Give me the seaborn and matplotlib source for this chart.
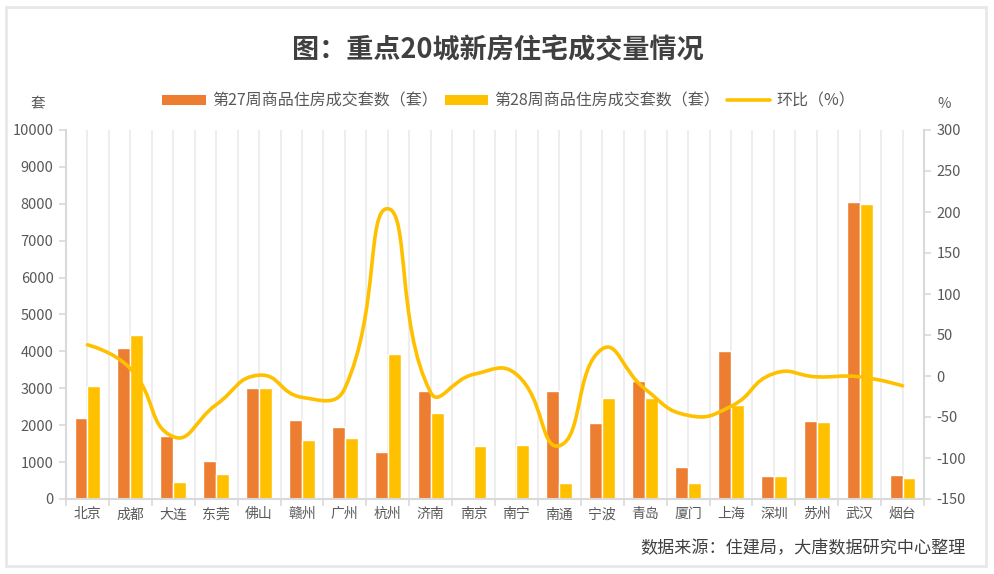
import numpy as np
import pandas as pd
import matplotlib
matplotlib.use("Agg")
import matplotlib.pyplot as plt
import seaborn as sns
from matplotlib.path import Path
from matplotlib.patches import PathPatch, Rectangle
from matplotlib.lines import Line2D

cities = ["北京", "成都", "大连", "东莞", "佛山", "赣州", "广州", "杭州", "济南", "南京",
          "南宁", "南通", "宁波", "青岛", "厦门", "上海", "深圳", "苏州", "武汉", "烟台"]
week27 = [2200, 4100, 1700, 1040, 3000, 2150, 1950, 1280, 2920, 0,
          0, 2920, 2060, 3210, 870, 4020, 630, 2120, 8050, 650]
week28 = [3050, 4450, 450, 680, 3020, 1600, 1650, 3930, 2330, 1440,
          1460, 430, 2740, 2740, 430, 2550, 630, 2090, 8000, 580]
ratio = [38, 9, -74, -35, 1, -26, -15, 204, -20, 2,
         2, -85, 33, -16, -48, -37, 3, -1, -1, -12]

name27 = "第27周商品住房成交套数（套）"
name28 = "第28周商品住房成交套数（套）"
name_ratio = "环比（%）"
left_ticks = list(range(0, 10001, 1000))
right_ticks = list(range(-150, 301, 50))

ORANGE = "#ED7D31"
YELLOW = "#FFC000"
TXT = "#595959"
AXC = "#d9d9d9"

sns.set_theme(style="white")
plt.rcParams["font.family"] = ["Noto Sans CJK SC", "DejaVu Sans"]

fig = plt.figure(figsize=(9.95, 5.74), dpi=100)
fig.patch.set_facecolor("white")
ax_left, ax_right, ax_bottom, ax_top = 66, 924, 499, 130
ax = fig.add_axes([ax_left / 995, (574 - ax_bottom) / 574,
                   (ax_right - ax_left) / 995, (ax_bottom - ax_top) / 574])

df = pd.DataFrame({
    "城市": cities * 2,
    "套数": week27 + week28,
    "周": [name27] * len(cities) + [name28] * len(cities),
})
sns.barplot(data=df, x="城市", y="套数", hue="周", palette=[ORANGE, YELLOW],
            width=0.6, saturation=1, ax=ax, legend=False, errorbar=None)

n = len(cities)
ax.set_xlim(-0.5, n - 0.5)
ax.set_ylim(0, 10000)
ax.set_xticks(np.arange(-0.5, n, 1.0))
ax.set_xticklabels([])
ax.set_xticks(np.arange(n), minor=True)
ax.set_xticklabels(cities, minor=True)
ax.set_yticks(left_ticks)
ax.set_yticklabels([str(v) for v in left_ticks])
ax.set_xlabel("")
ax.set_ylabel("")
ax.tick_params(axis="x", which="major", length=5, width=1.2, color=AXC, bottom=True)
ax.tick_params(axis="x", which="minor", length=0, labelsize=10, labelcolor=TXT, pad=6)
ax.tick_params(axis="y", length=5, width=1.2, color=AXC, labelsize=10.5, labelcolor=TXT, left=True, pad=4)
ax.grid(axis="x", which="both", color="#ebebeb", lw=1.2)
ax.set_axisbelow(True)
for s in ["top", "right"]:
    ax.spines[s].set_visible(False)
for s in ["left", "bottom"]:
    ax.spines[s].set_color(AXC)
    ax.spines[s].set_linewidth(1.5)

ax2 = ax.twinx()
ax2.set_ylim(-150, 300)
ax2.set_yticks(right_ticks)
ax2.set_yticklabels([str(v) for v in right_ticks])
ax2.tick_params(axis="y", length=5, width=1.2, color=AXC, labelsize=10.5, labelcolor=TXT, right=True, pad=4)
for s in ["top", "left", "bottom"]:
    ax2.spines[s].set_visible(False)
ax2.spines["right"].set_color(AXC)
ax2.spines["right"].set_linewidth(1.5)
ax2.set_xlim(-0.5, n - 0.5)

# smooth line: bezier through the data points (echarts-style smoothing)
xs = np.arange(n, dtype=float)
ys = np.array(ratio, dtype=float)
pts = np.column_stack([xs, ys])
px_per_x = (ax_right - ax_left) / n
px_per_y = (ax_bottom - ax_top) / 450.0
scale = np.array([px_per_x, px_per_y])
smooth = 0.5
cp_before = pts.copy()
cp_after = pts.copy()
for i in range(1, n - 1):
    prev, cur, nxt = pts[i - 1], pts[i], pts[i + 1]
    v = (nxt - prev) * smooth
    d0 = np.linalg.norm((cur - prev) * scale)
    d1 = np.linalg.norm((nxt - cur) * scale)
    tot = d0 + d1
    cp_before[i] = cur - v * d0 / tot
    cp_after[i] = cur + v * d1 / tot
verts = [pts[0]]
codes = [Path.MOVETO]
for i in range(n - 1):
    verts += [cp_after[i], cp_before[i + 1], pts[i + 1]]
    codes += [Path.CURVE4] * 3
ax2.add_patch(PathPatch(Path(verts, codes), facecolor="none", edgecolor=YELLOW,
                        lw=2.6, capstyle="round", joinstyle="round"))

# legend
handles = [
    Rectangle((0, 0), 1, 1, facecolor=ORANGE, edgecolor="none"),
    Rectangle((0, 0), 1, 1, facecolor=YELLOW, edgecolor="none"),
    Line2D([0], [0], color=YELLOW, lw=2.6),
]
leg = fig.legend(handles, [name27, name28, name_ratio], loc="center",
                 bbox_to_anchor=(509 / 995, 1 - 101 / 574), ncol=3, frameon=False,
                 fontsize=11.5, handlelength=2.7, handleheight=0.6,
                 handletextpad=0.4, columnspacing=0.45)
for t in leg.get_texts():
    t.set_color(TXT)

fig.text(0.5, 1 - 50 / 574, "图：重点20城新房住宅成交量情况", ha="center", va="center",
         fontsize=19.5, fontweight="bold", color="#404040")
fig.text(38 / 995, 1 - 104 / 574, "套", ha="center", va="center", fontsize=10.5, color=TXT)
fig.text(944 / 995, 1 - 104 / 574, "%", ha="center", va="center", fontsize=10.5, color=TXT)
fig.text(966 / 995, 1 - 548 / 574, "数据来源：住建局，大唐数据研究中心整理", ha="right",
         va="center", fontsize=12.3, color="#404040")

fig.add_artist(Rectangle((5.5 / 995, 8 / 574), (986 - 5.5) / 995, (566 - 6.5) / 574,
                         transform=fig.transFigure, facecolor="none",
                         edgecolor="#e8e8e8", lw=2))

fig.savefig("out.png", dpi=100, facecolor="white")
